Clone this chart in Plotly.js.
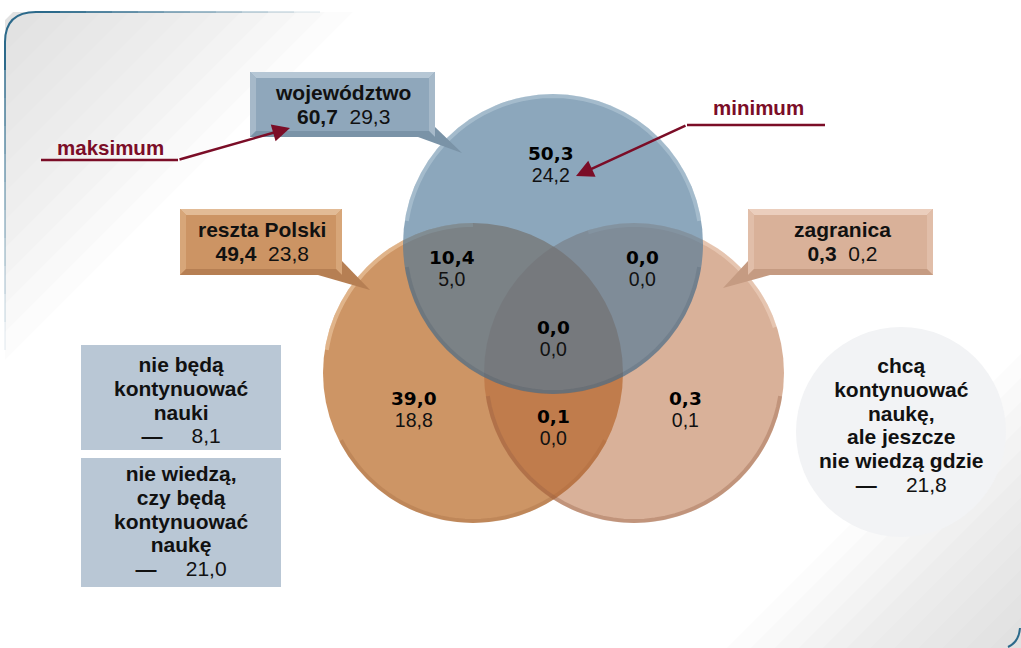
<!DOCTYPE html>
<html><head><meta charset="utf-8">
<script src="https://cdn.plot.ly/plotly-3.0.1.min.js"></script>
<style>html,body{margin:0;padding:0;background:#fff}#chart{width:1021px;height:648px}</style>
</head><body><div id="chart"></div>
<script>
// ---- data ----
const setNames = ['województwo', 'reszta Polski', 'zagranica'];
const setBold = [60.7, 49.4, 0.3];
const setRegular = [29.3, 23.8, 0.2];
// regions: W only, W∩R, W∩Z, W∩R∩Z, R only, R∩Z, Z only
const regionNames = ['tylko województwo', 'województwo i reszta Polski', 'województwo i zagranica', 'wszystkie', 'tylko reszta Polski', 'reszta Polski i zagranica', 'tylko zagranica'];
const regionBold = [50.3, 10.4, 0.0, 0.0, 39.0, 0.1, 0.3];
const regionRegular = [24.2, 5.0, 0.0, 0.0, 18.8, 0.0, 0.1];
const otherLines = [
  ['nie będą', 'kontynuować', 'nauki'],
  ['nie wiedzą,', 'czy będą', 'kontynuować', 'naukę'],
  ['chcą', 'kontynuować', 'naukę,', 'ale jeszcze', 'nie wiedzą gdzie']
];
const otherValues = [8.1, 21.0, 21.8];
const markerLabels = ['maksimum', 'minimum'];

// ---- layout helpers ----
const W = 1021, H = 648;
const fmt = v => v.toFixed(1).replace('.', ',');
const NB = '\u00a0';
const shapes = [];
const annotations = [];
const SANS = 'Liberation Sans, Arial, sans-serif';
const OPEN = 'Open Sans, Noto Sans, sans-serif';
const MAROON = '#7b0d27';

function poly(pts, fill, line) {
  const d = 'M ' + pts.map(p => p[0] + ',' + p[1]).join(' L ') + ' Z';
  shapes.push({type: 'path', xref: 'x', yref: 'y', path: d, fillcolor: fill, line: line || {width: 0}});
}
function openPath(pts, color, width) {
  const d = 'M ' + pts.map(p => p[0] + ',' + p[1]).join(' L ');
  shapes.push({type: 'path', xref: 'x', yref: 'y', path: d, line: {color: color, width: width}});
}
function circle(cx, cy, r, fill, line) {
  shapes.push({type: 'circle', xref: 'x', yref: 'y', x0: cx - r, x1: cx + r, y0: cy - r, y1: cy + r, fillcolor: fill, line: line || {width: 0}});
}
function arc(cx, cy, r, t0, t1, color, width) {
  const pts = [];
  const n = 40;
  for (let i = 0; i <= n; i++) {
    const t = t0 + (t1 - t0) * i / n;
    pts.push([(cx + r * Math.cos(t)).toFixed(2), (cy + r * Math.sin(t)).toFixed(2)]);
  }
  openPath(pts, color, width);
}
function txt(x, y, text, size, color, family) {
  annotations.push({x: x, y: y, xref: 'x', yref: 'y', text: text, showarrow: false,
    xanchor: 'center', yanchor: 'middle', font: {family: family || SANS, size: size, color: color || '#111'}});
}
const sp = (s, style) => '<span style="' + style + '">' + s + '</span>';
function bevelBox(x0, y0, x1, y1, main, light, side, dark, b) {
  poly([[x0, y0], [x1, y0], [x1, y1], [x0, y1]], main);
  poly([[x0, y0], [x1, y0], [x1 - b, y0 + b], [x0 + b, y0 + b]], light);
  poly([[x0, y0], [x0 + b, y0 + b], [x0 + b, y1 - b], [x0, y1]], side);
  poly([[x1, y0], [x1 - b, y0 + b], [x1 - b, y1 - b], [x1, y1]], side);
  poly([[x0, y1], [x0 + b, y1 - b], [x1 - b, y1 - b], [x1, y1]], dark);
}

// ---- background gradients ----
for (let i = 0; i < 12; i++) {
  const d = 40 + i * 28;
  poly([[5, 12 + d], [5, 40], [5, 20], [13, 12], [5 + d, 12]], 'rgba(205,205,203,0.065)');
}
for (let i = 0; i < 12; i++) {
  const d = 30 + i * 24;
  poly([[1021, 648 - d], [1021, 648], [1021 - d, 648]], 'rgba(205,205,203,0.055)');
}
// frame (fading)
shapes.push({type: 'path', xref: 'x', yref: 'y', path: 'M 5,70 L 5,42 Q 5,12 36,12 L 60,12', line: {color: '#2c6a8b', width: 2}});
for (let i = 0; i < 10; i++) {
  const op = (0.9 - i * 0.09).toFixed(2);
  openPath([[60 + i * 26, 12], [86 + i * 26, 12]], 'rgba(44,106,139,' + op + ')', 2);
  openPath([[5, 70 + i * 28], [5, 98 + i * 28]], 'rgba(44,106,139,' + (op * 0.8).toFixed(2) + ')', 2);
}
shapes.push({type: 'path', xref: 'x', yref: 'y', path: 'M 1020,628 Q 1019,642 1008,647', line: {color: '#2c6a8b', width: 2}});

// ---- circles ----
const C = {W: [553, 244], R: [473, 373], Z: [634, 373]};
const RAD = 150;
circle(901, 432, 105, '#f2f3f5');
circle(C.R[0], C.R[1], RAD, '#cd9565');
arc(C.R[0], C.R[1], RAD - 2, Math.PI * 1.05, Math.PI * 1.5, 'rgba(240,205,170,0.55)', 4);
arc(C.R[0], C.R[1], RAD - 2, Math.PI * 0.15, Math.PI * 0.85, 'rgba(150,95,55,0.25)', 4);
circle(C.Z[0], C.Z[1], RAD, 'rgba(179,99,51,0.5)');
arc(C.Z[0], C.Z[1], RAD - 2, Math.PI * 0.05, Math.PI * 0.95, 'rgba(150,95,70,0.35)', 4);
arc(C.Z[0], C.Z[1], RAD - 2, -Math.PI * 0.6, -Math.PI * 0.1, 'rgba(255,235,220,0.35)', 4);
circle(C.W[0], C.W[1], RAD, 'rgba(78,120,152,0.65)');
arc(C.W[0], C.W[1], RAD - 2, -Math.PI * 0.95, -Math.PI * 0.05, 'rgba(210,225,235,0.35)', 4);
arc(C.W[0], C.W[1], RAD - 2, Math.PI * 0.05, Math.PI * 0.95, 'rgba(40,60,80,0.15)', 4);

// ---- set callout boxes ----
const boxes = [
  {r: [250, 72, 435, 137], cols: ['#8fa7bb', '#b6c7d5', '#a6b9c9', '#7a93a7'], ptr: [[418, 137], [435, 127], [462, 153]], tx: 343, ty: 104},
  {r: [180, 209, 342, 275], cols: ['#cc9464', '#e2bb96', '#d7a679', '#b67f53'], ptr: [[318, 275], [342, 261], [370, 290]], tx: 262, ty: 241},
  {r: [748, 209, 933, 275], cols: ['#d9b199', '#ebcebd', '#e1bea9', '#c59b82'], ptr: [[748, 261], [770, 275], [723, 288]], tx: 842, ty: 241}
];
const BIG = 'font-size:21px';
boxes.forEach((b, i) => {
  const [x0, y0, x1, y1] = b.r;
  poly(b.ptr, b.cols[3]);
  bevelBox(x0, y0, x1, y1, b.cols[0], b.cols[1], b.cols[2], b.cols[3], 6);
  const t = sp('<b>' + setNames[i] + '</b>', BIG) + '<br>' +
            sp('<b>' + fmt(setBold[i]) + '</b>' + NB + NB + fmt(setRegular[i]), BIG);
  txt(b.tx, b.ty, t, 18.3);
});

// ---- region values ----
const regionPos = [[551, 164], [452, 268], [642, 268], [553, 338], [414, 409], [553, 427], [685, 409]];
regionBold.forEach((v, i) => {
  const [x, y] = regionPos[i];
  const t = sp('<b>' + fmt(v) + '</b>', 'font-family:DejaVu Sans;font-size:18.5px;fill:#000') + '<br>' +
            sp(fmt(regionRegular[i]), 'font-size:19.5px');
  txt(x, y, t, 16.6);
});

// ---- other groups ----
const otherBoxes = [[81, 345, 281, 450], [81, 458, 281, 587]];
otherBoxes.forEach(r => poly([[r[0], r[1]], [r[2], r[1]], [r[2], r[3]], [r[0], r[3]]], '#b9c7d5'));
const otherPos = [[181, 400], [181, 521], [901, 425]];
otherLines.forEach((lines, i) => {
  const [x, y] = otherPos[i];
  const parts = lines.map(l => sp('<b>' + l + '</b>', BIG));
  parts.push(sp('<b>—</b>' + NB.repeat(5) + fmt(otherValues[i]), BIG));
  txt(x, y, parts.join('<br>'), 18.3);
});

// ---- markers ----
openPath([[41, 160], [178, 160]], MAROON, 2.5);
openPath([[687, 125], [825, 125]], MAROON, 2.5);
txt(110, 147, '<b>' + markerLabels[0] + '</b>', 20.5, MAROON);
txt(758, 107, '<b>' + markerLabels[1] + '</b>', 20.5, MAROON);
annotations.push({x: 290, y: 128, ax: 178, ay: 160, xref: 'x', yref: 'y', axref: 'x', ayref: 'y', text: '', showarrow: true,
  arrowhead: 2, arrowsize: 1.4, arrowwidth: 2.5, arrowcolor: MAROON, standoff: 0});
annotations.push({x: 576, y: 176, ax: 687, ay: 125, xref: 'x', yref: 'y', axref: 'x', ayref: 'y', text: '', showarrow: true,
  arrowhead: 2, arrowsize: 1.4, arrowwidth: 2.5, arrowcolor: MAROON, standoff: 0});

const layout = {
  width: W, height: H,
  margin: {l: 0, r: 0, t: 0, b: 0, pad: 0},
  paper_bgcolor: '#ffffff', plot_bgcolor: '#ffffff',
  xaxis: {range: [0, W], visible: false, fixedrange: true},
  yaxis: {range: [H, 0], visible: false, fixedrange: true},
  showlegend: false,
  shapes: shapes,
  annotations: annotations
};
Plotly.newPlot('chart', [], layout, {displayModeBar: false, staticPlot: true});
</script>
</body></html>
